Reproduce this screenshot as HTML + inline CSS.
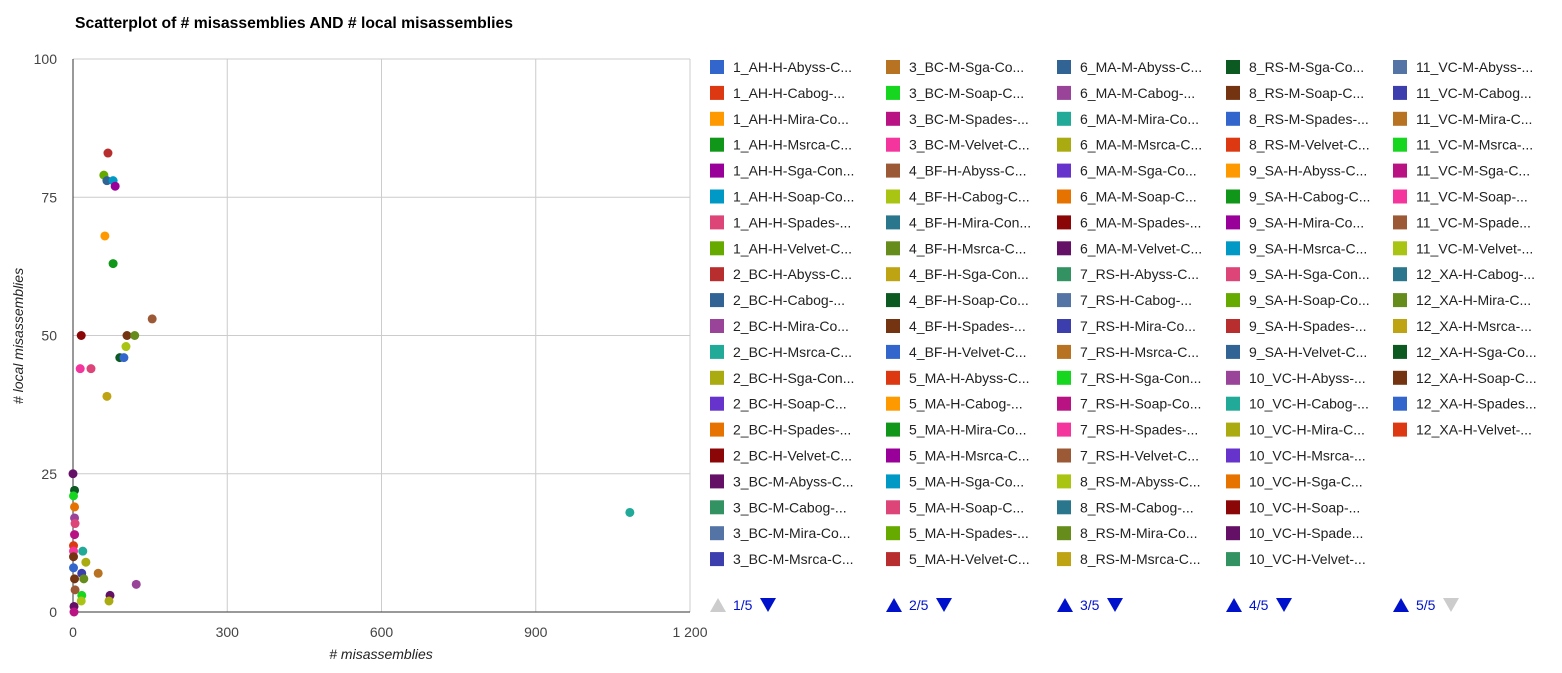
<!DOCTYPE html>
<html><head><meta charset="utf-8"><style>
body{margin:0;background:#fff;font-family:"Liberation Sans",Arial,sans-serif;}
svg text{font-family:"Liberation Sans",Arial,sans-serif;}
</style></head><body>
<svg id="c" width="1562" height="668">
<text x="75" y="28" font-size="15.5" font-weight="bold" fill="#000" textLength="438" lengthAdjust="spacingAndGlyphs">Scatterplot of # misassemblies AND # local misassemblies</text>
<text x="381" y="659" font-size="14" font-style="italic" fill="#222" text-anchor="middle"># misassemblies</text>
<text transform="translate(23,336) rotate(-90)" font-size="14" font-style="italic" fill="#222" text-anchor="middle"># local misassemblies</text>
<g id="grid"></g><g id="pts"></g><g id="leg"></g>
</svg>
<script>
const xTicks=[0,300,600,900,1200];
const xTickLabels=["0","300","600","900","1 200"];
const yTicks=[0,25,50,75,100];
const xVals=[68,60,66,78,82,62,78,154,16,105,120,103,91,99,14,35,66,1083,0,3,1,3,3,4,3,1,1,19,1,25,1,49,17,21,3,123,4,17,72,16,70,2,2];
const yVals=[83,79,78,78,77,68,63,53,50,50,50,48,46,46,44,44,39,18,25,22,21,19,17,16,14,12,11,11,10,9,8,7,7,6,6,5,4,3,3,2,2,1,0];
const seriesIdx=[8,7,9,5,4,2,3,24,15,30,27,25,29,0,23,6,28,11,16,29,21,14,10,6,22,1,23,11,30,12,0,20,19,27,30,10,24,21,16,25,12,16,22];
const palette=["#3366cc","#dc3912","#ff9900","#109618","#990099","#0099c6","#dd4477","#66aa00","#b82e2e","#316395","#994499","#22aa99","#aaaa11","#6633cc","#e67300","#8b0707","#651067","#329262","#5574a6","#3b3eac","#b77322","#16d620","#b91383","#f4359e","#9c5935","#a9c413","#2a778d","#668d1c","#bea413","#0c5922","#743411"];
const legendLabels=[
"1_AH-H-Abyss-C...","1_AH-H-Cabog-...","1_AH-H-Mira-Co...","1_AH-H-Msrca-C...","1_AH-H-Sga-Con...","1_AH-H-Soap-Co...","1_AH-H-Spades-...","1_AH-H-Velvet-C...","2_BC-H-Abyss-C...","2_BC-H-Cabog-...","2_BC-H-Mira-Co...","2_BC-H-Msrca-C...","2_BC-H-Sga-Con...","2_BC-H-Soap-C...","2_BC-H-Spades-...","2_BC-H-Velvet-C...","3_BC-M-Abyss-C...","3_BC-M-Cabog-...","3_BC-M-Mira-Co...","3_BC-M-Msrca-C...",
"3_BC-M-Sga-Co...","3_BC-M-Soap-C...","3_BC-M-Spades-...","3_BC-M-Velvet-C...","4_BF-H-Abyss-C...","4_BF-H-Cabog-C...","4_BF-H-Mira-Con...","4_BF-H-Msrca-C...","4_BF-H-Sga-Con...","4_BF-H-Soap-Co...","4_BF-H-Spades-...","4_BF-H-Velvet-C...","5_MA-H-Abyss-C...","5_MA-H-Cabog-...","5_MA-H-Mira-Co...","5_MA-H-Msrca-C...","5_MA-H-Sga-Co...","5_MA-H-Soap-C...","5_MA-H-Spades-...","5_MA-H-Velvet-C...",
"6_MA-M-Abyss-C...","6_MA-M-Cabog-...","6_MA-M-Mira-Co...","6_MA-M-Msrca-C...","6_MA-M-Sga-Co...","6_MA-M-Soap-C...","6_MA-M-Spades-...","6_MA-M-Velvet-C...","7_RS-H-Abyss-C...","7_RS-H-Cabog-...","7_RS-H-Mira-Co...","7_RS-H-Msrca-C...","7_RS-H-Sga-Con...","7_RS-H-Soap-Co...","7_RS-H-Spades-...","7_RS-H-Velvet-C...","8_RS-M-Abyss-C...","8_RS-M-Cabog-...","8_RS-M-Mira-Co...","8_RS-M-Msrca-C...",
"8_RS-M-Sga-Co...","8_RS-M-Soap-C...","8_RS-M-Spades-...","8_RS-M-Velvet-C...","9_SA-H-Abyss-C...","9_SA-H-Cabog-C...","9_SA-H-Mira-Co...","9_SA-H-Msrca-C...","9_SA-H-Sga-Con...","9_SA-H-Soap-Co...","9_SA-H-Spades-...","9_SA-H-Velvet-C...","10_VC-H-Abyss-...","10_VC-H-Cabog-...","10_VC-H-Mira-C...","10_VC-H-Msrca-...","10_VC-H-Sga-C...","10_VC-H-Soap-...","10_VC-H-Spade...","10_VC-H-Velvet-...",
"11_VC-M-Abyss-...","11_VC-M-Cabog...","11_VC-M-Mira-C...","11_VC-M-Msrca-...","11_VC-M-Sga-C...","11_VC-M-Soap-...","11_VC-M-Spade...","11_VC-M-Velvet-...","12_XA-H-Cabog-...","12_XA-H-Mira-C...","12_XA-H-Msrca-...","12_XA-H-Sga-Co...","12_XA-H-Soap-C...","12_XA-H-Spades...","12_XA-H-Velvet-..."];
const NS="http://www.w3.org/2000/svg";
const L=73,R=690,T=59,B=612;
const sx=v=>L+v/1200*(R-L), sy=v=>B-v/100*(B-T);
function mk(t,a,p){const e=document.createElementNS(NS,t);for(const k in a)e.setAttribute(k,a[k]);p.appendChild(e);return e;}
const g=document.getElementById('grid');
xTicks.forEach((v,i)=>{
 if(v>0){const l=mk('line',{x1:sx(v),x2:sx(v),y1:T,y2:B,stroke:'#ccc'},g);
 
 }
 const t=mk('text',{x:sx(v),y:B+25,'font-size':14,fill:'#444','text-anchor':'middle'},g);t.textContent=xTickLabels[i];
 
 
});
yTicks.forEach(v=>{
 if(v>0){const l=mk('line',{x1:L,x2:R,y1:sy(v),y2:sy(v),stroke:'#ccc'},g);
 
 }
 const t=mk('text',{x:L-16,y:sy(v)+5,'font-size':14,fill:'#444','text-anchor':'end'},g);t.textContent=v;
 
 
});
const ax=mk('line',{x1:L,x2:L,y1:T,y2:B,stroke:'#333'},g);


const bx=mk('line',{x1:L,x2:R,y1:B,y2:B,stroke:'#333'},g);


const pg=document.getElementById('pts');
xVals.forEach((x,i)=>{
 const c=mk('circle',{cx:sx(x),cy:sy(yVals[i]),r:4.5,fill:palette[seriesIdx[i]%palette.length]},pg);
 
 
});
const lg=document.getElementById('leg');
const colX=[710,886,1057,1226,1393];
legendLabels.forEach((s,i)=>{
 const col=Math.floor(i/20),row=i%20,x=colX[col],y=67+row*25.9;
 const r=mk('rect',{x:x,y:y-7,width:14,height:14,fill:palette[i%palette.length]},lg);
 
 
 const t=mk('text',{x:x+23,y:y+5,'font-size':14,fill:'#222'},lg);t.textContent=s;
 
 
});
colX.forEach((x,i)=>{
 const y=605;
 const up=mk('path',{d:`M${x} ${y+7}L${x+8} ${y-7}L${x+16} ${y+7}Z`,fill:i==0?'#ccc':'#0011cc'},lg);
 
 
 const t=mk('text',{x:x+23,y:y+5,'font-size':14,fill:'#0011cc'},lg);t.textContent=(i+1)+'/5';
 
 
 const dx=x+50;
 const dn=mk('path',{d:`M${dx} ${y-7}L${dx+8} ${y+7}L${dx+16} ${y-7}Z`,fill:i==4?'#ccc':'#0011cc'},lg);
 
 
});
</script>
</body></html>
